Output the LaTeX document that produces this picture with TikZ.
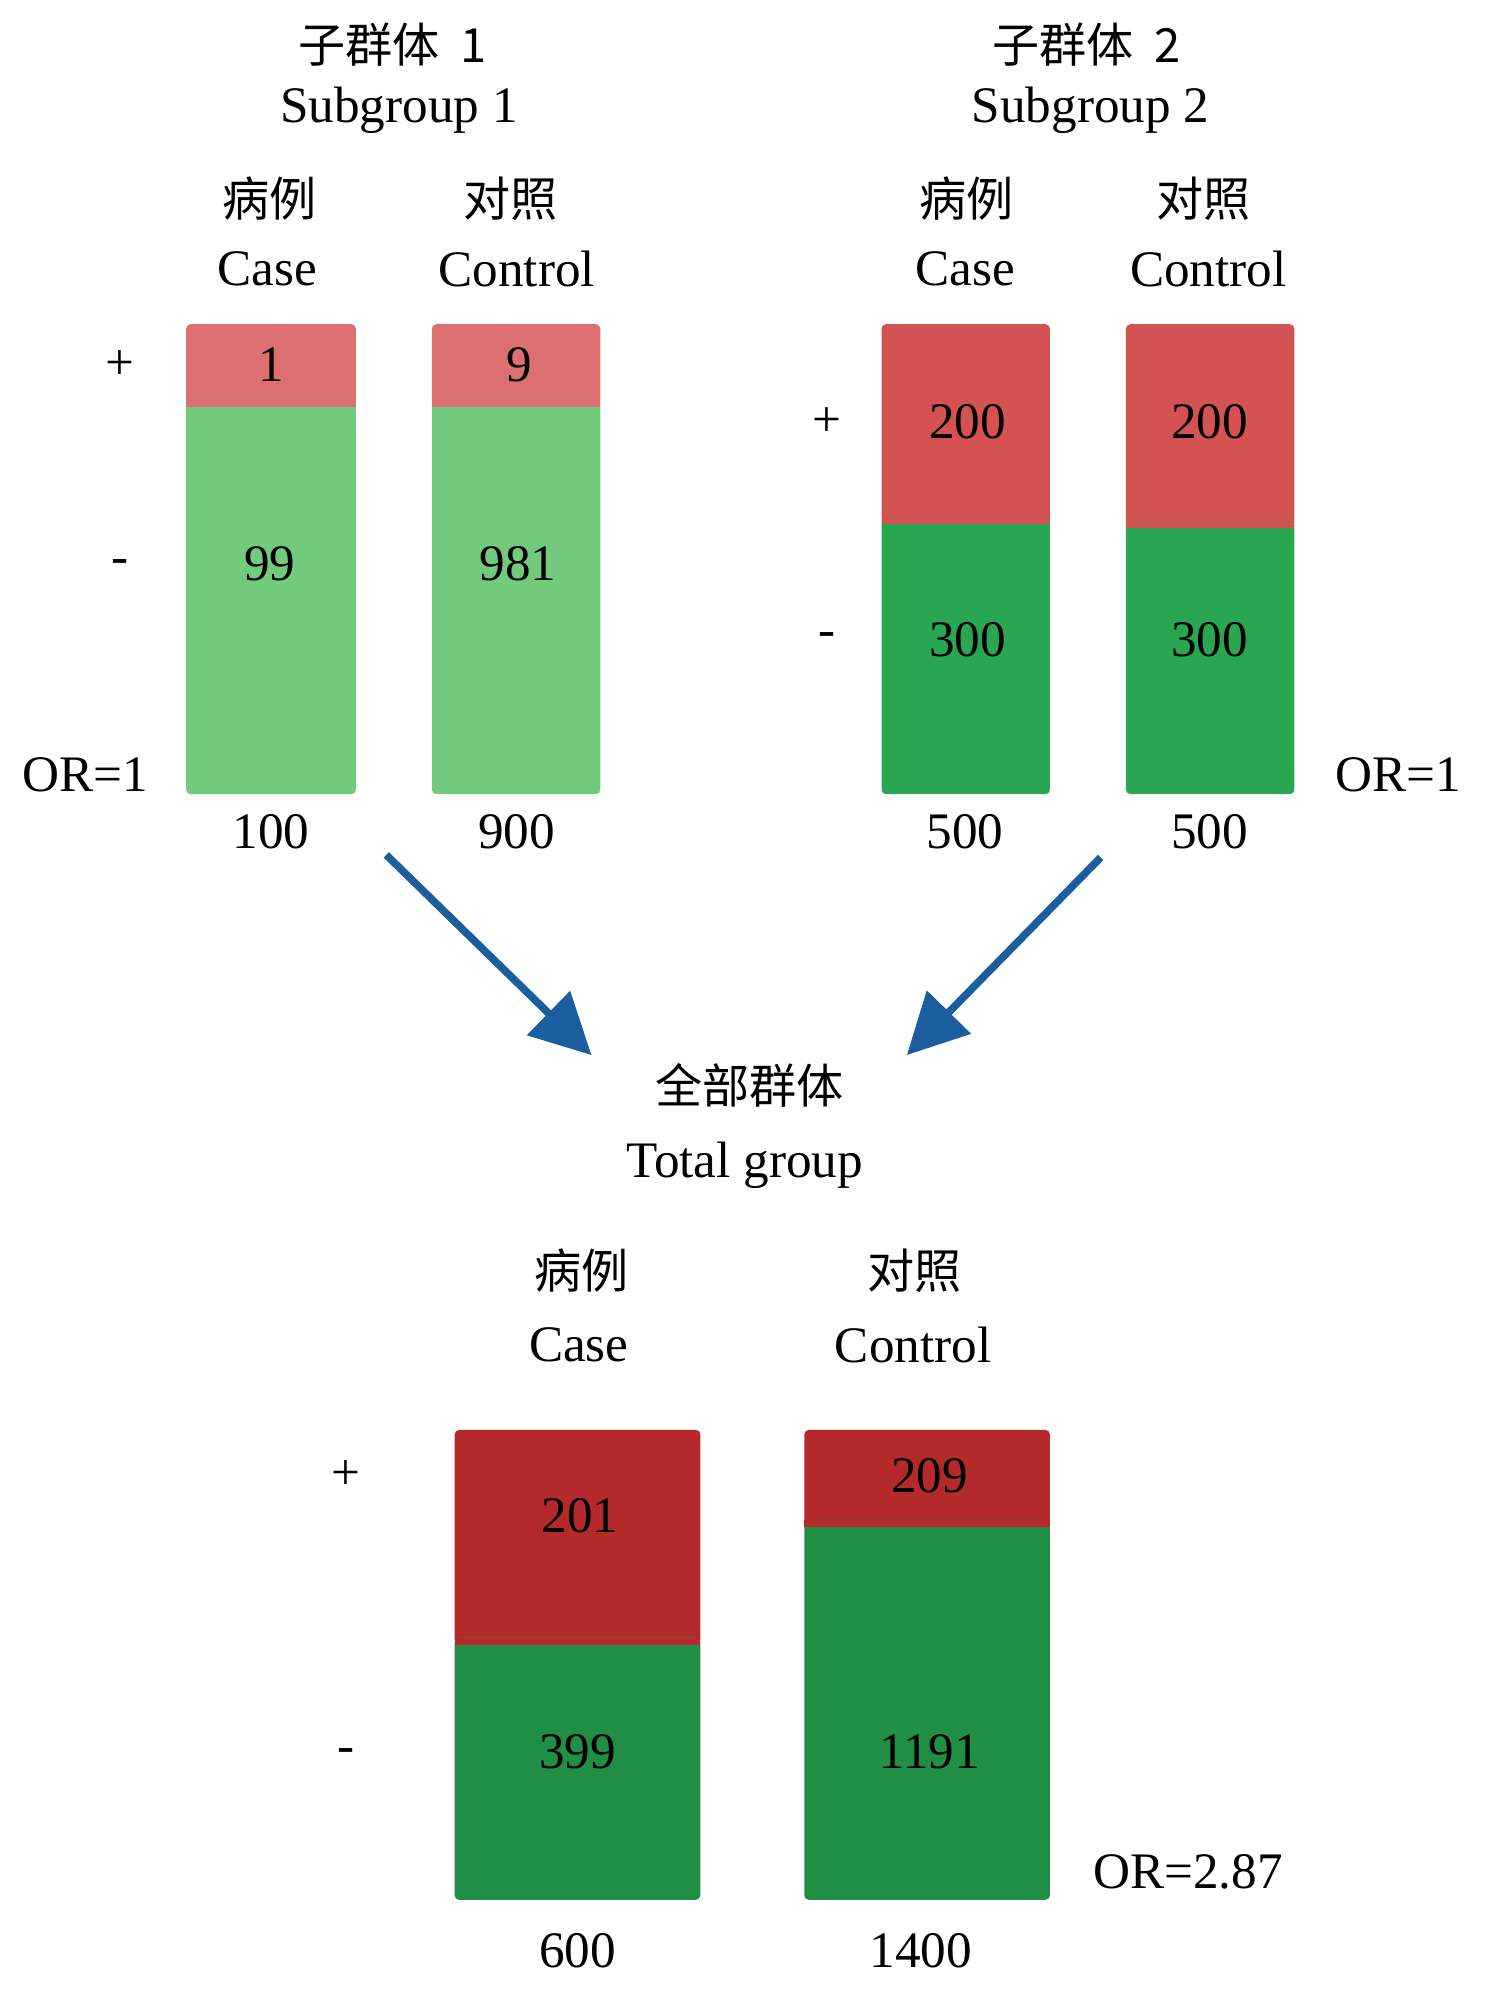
\documentclass[tikz,border=0pt]{standalone}
\usepackage{fontspec}
\setmainfont{Liberation Serif}
\newfontfamily\cjk{Noto Sans CJK SC}[Scale=0.92]
\usetikzlibrary{arrows.meta}
\definecolor{redA}{HTML}{DC7070}
\definecolor{greenA}{HTML}{72CB7C}
\definecolor{redB}{HTML}{D45252}
\definecolor{greenB}{HTML}{28A652}
\definecolor{redC}{HTML}{B42A2A}
\definecolor{greenC}{HTML}{208E45}
\definecolor{arrowblue}{HTML}{1A5E9E}
\tikzset{
  lbl/.style={inner sep=0pt, font=\fontsize{23}{28}\selectfont},
  zh/.style={lbl, font=\fontsize{23}{28}\selectfont\cjk},
  flow/.style={draw=arrowblue, line width=0.12cm, -{Triangle[length=0.95cm, width=0.95cm, fill=arrowblue]}}
}
% stacked bar: x1, x2, top, split, bottom, red, green
\newcommand{\stackbar}[7]{%
  \fill[#6, rounded corners=2pt] (#1,#3) rectangle (#2,#4+5);
  \fill[#7, rounded corners=2pt] (#1,#4) rectangle (#2,#5);
  \fill[#6] (#1,#4) rectangle (#2,#4+6);}
\begin{document}
\begin{tikzpicture}[x=0.02cm, y=-0.02cm]
  \useasboundingbox (0,0) rectangle (1180,1572);

  % Subgroup 1
  \stackbar{147}{281}{256}{315}{627}{redA}{greenA}
  \stackbar{341}{474}{256}{315}{627}{redA}{greenA}
  \node[zh] (s1zh) at (310,35) {子群体\ \ 1};
  \node[lbl] (s1en) at (315,87) {Subgroup 1};
  \node[zh] (s1casezh) at (213,157) {病例};
  \node[lbl] (s1case) at (211,212) {Case};
  \node[zh] (s1ctrlzh) at (403,157) {对照};
  \node[lbl] (s1ctrl) at (408,212) {Control};
  \node[lbl] (s1pos) at (95,288) {+};
  \node[lbl] (s1neg) at (95,447) {-};
  \node[lbl] (s1a) at (214,288) {1};
  \node[lbl] (s1b) at (410,288) {9};
  \node[lbl] (s1c) at (213,445) {99};
  \node[lbl] (s1d) at (409,445) {981};
  \node[lbl] (s1or) at (67,612) {OR=1};
  \node[lbl] (s1n1) at (214,657) {100};
  \node[lbl] (s1n2) at (408,657) {900};

  % Subgroup 2
  \stackbar{696}{829}{256}{408}{627}{redB}{greenB}
  \stackbar{889}{1022}{256}{411}{627}{redB}{greenB}
  \node[zh] (s2zh) at (858,35) {子群体\ \ 2};
  \node[lbl] (s2en) at (861,87) {Subgroup 2};
  \node[zh] (s2casezh) at (763,157) {病例};
  \node[lbl] (s2case) at (762,212) {Case};
  \node[zh] (s2ctrlzh) at (950,157) {对照};
  \node[lbl] (s2ctrl) at (954,212) {Control};
  \node[lbl] (s2pos) at (653,333) {+};
  \node[lbl] (s2neg) at (653,505) {-};
  \node[lbl] (s2a) at (764,333) {200};
  \node[lbl] (s2b) at (955,333) {200};
  \node[lbl] (s2c) at (764,505) {300};
  \node[lbl] (s2d) at (955,505) {300};
  \node[lbl] (s2or) at (1104,612) {OR=1};
  \node[lbl] (s2n1) at (762,657) {500};
  \node[lbl] (s2n2) at (955,657) {500};

  % Arrows
  \coordinate (a1) at (305,675);
  \coordinate (a1end) at (467,833);
  \coordinate (a2) at (869,677);
  \coordinate (a2end) at (716,833);
  \draw[flow] (a1) -- (a1end);
  \draw[flow] (a2) -- (a2end);

  % Total group
  \stackbar{359}{553}{1129}{1293}{1500}{redC}{greenC}
  \stackbar{635}{829}{1129}{1200}{1500}{redC}{greenC}
  \node[zh] (tzh) at (592,857) {全部群体};
  \node[lbl] (ten) at (588,920) {Total group};
  \node[zh] (tcasezh) at (459,1003) {病例};
  \node[lbl] (tcase) at (457,1062) {Case};
  \node[zh] (tctrlzh) at (722,1003) {对照};
  \node[lbl] (tctrl) at (721,1062) {Control};
  \node[lbl] (tpos) at (273,1165) {+};
  \node[lbl] (tneg) at (273,1386) {-};
  \node[lbl] (ta) at (458,1197) {201};
  \node[lbl] (tb) at (734,1165) {209};
  \node[lbl] (tc) at (456,1383) {399};
  \node[lbl] (td) at (734,1383) {1191};
  \node[lbl] (tor) at (938,1478) {OR=2.87};
  \node[lbl] (tn1) at (456,1540) {600};
  \node[lbl] (tn2) at (727,1540) {1400};
\end{tikzpicture}
\end{document}
